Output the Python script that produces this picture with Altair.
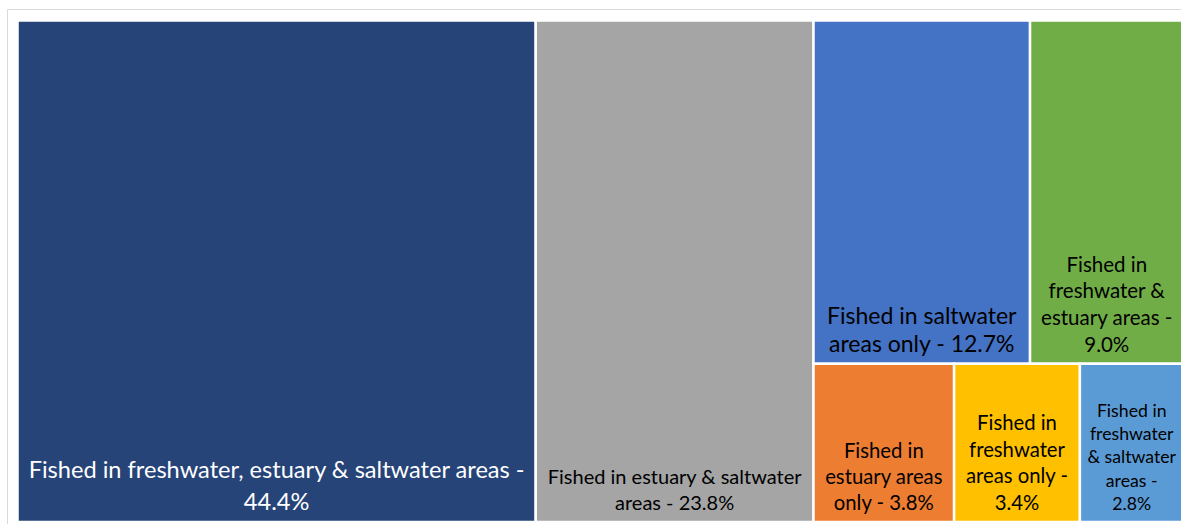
import textwrap

import altair as alt
import pandas as pd

# Share of anglers by the kinds of water they fished in
categories = [
    "Fished in freshwater, estuary & saltwater areas",
    "Fished in estuary & saltwater areas",
    "Fished in saltwater areas only",
    "Fished in freshwater & estuary areas",
    "Fished in estuary areas only",
    "Fished in freshwater areas only",
    "Fished in freshwater & saltwater areas",
]
shares = [44.4, 23.8, 12.7, 9.0, 3.8, 3.4, 2.8]

# Tile styling, one entry per category
fill_colors = ["#264478", "#A5A5A5", "#4472C4", "#70AD47", "#ED7D31", "#FFC000", "#5B9BD5"]
label_colors = ["#FFFFFF", "#000000", "#000000", "#000000", "#000000", "#000000", "#000000"]
font_sizes = [23.6, 20, 23, 20.5, 20.3, 20.3, 17.7]
line_heights = [32, 26, 28, 26.7, 26, 26.7, 23.3]
wrap_widths = [52, 30, 20, 15, 13, 12, 11]

W, H = 1174, 515          # plot area
BOUNDS = (10.5, 11.5, 1176.5, 513)  # treemap extent inside the plot area
ASPECT_RATIO = 1.13       # target aspect ratio for squarified rows
LABEL_PAD = 12            # distance from tile bottom to last baseline


def squarify(values, x0, y0, x1, y1, ratio):
    """Squarified treemap layout (same scheme as d3.treemapSquarify)."""
    rects = []
    n = len(values)
    remaining = float(sum(values))
    i0 = 0
    while i0 < n:
        dx, dy = x1 - x0, y1 - y0
        i1 = i0
        row_sum = values[i1]
        i1 += 1
        lo = hi = row_sum
        alpha = max(dy / dx, dx / dy) / (remaining * ratio)
        beta = row_sum * row_sum * alpha
        best = max(hi / beta, beta / lo)
        while i1 < n:
            v = values[i1]
            s = row_sum + v
            nlo, nhi = min(lo, v), max(hi, v)
            beta = s * s * alpha
            worst = max(nhi / beta, beta / nlo)
            if worst > best:
                break
            row_sum, lo, hi, best = s, nlo, nhi, worst
            i1 += 1
        row = values[i0:i1]
        if dx < dy:
            yb = y0 + dy * row_sum / remaining
            cx = x0
            for v in row:
                w = dx * v / row_sum
                rects.append((cx, y0, cx + w, yb))
                cx += w
            y0 = yb
        else:
            xb = x0 + dx * row_sum / remaining
            cy = y0
            for v in row:
                h = dy * v / row_sum
                rects.append((x0, cy, xb, cy + h))
                cy += h
            x0 = xb
        remaining -= row_sum
        i0 = i1
    return rects


rects = squarify(shares, *BOUNDS, ASPECT_RATIO)

tiles = pd.DataFrame({
    "category": categories,
    "share": shares,
    "x0": [r[0] for r in rects],
    "y0": [r[1] for r in rects],
    "x1": [r[2] for r in rects],
    "y1": [r[3] for r in rects],
    "fill": fill_colors,
})

label_rows = []
for i, (cat, val) in enumerate(zip(categories, shares)):
    label = f"{cat} - {val:.1f}%"
    lines = textwrap.wrap(label, width=wrap_widths[i],
                          break_on_hyphens=False, break_long_words=False)
    x0, y0, x1, y1 = rects[i]
    n = len(lines)
    for j, line in enumerate(lines):
        label_rows.append({
            "line": line,
            "cx": (x0 + x1) / 2,
            "ty": y1 - LABEL_PAD - (n - 1 - j) * line_heights[i],
            "fs": font_sizes[i],
            "tc": label_colors[i],
        })
labels = pd.DataFrame(label_rows)

xs = alt.Scale(domain=[0, W], nice=False, zero=False)
ys = alt.Scale(domain=[0, H], nice=False, zero=False, reverse=True)

boxes = alt.Chart(tiles).mark_rect(stroke="white", strokeWidth=2.5).encode(
    x=alt.X("x0:Q", scale=xs, axis=None),
    x2="x1:Q",
    y=alt.Y("y0:Q", scale=ys, axis=None),
    y2="y1:Q",
    color=alt.Color("fill:N", scale=None),
    tooltip=["category:N", "share:Q"],
)

text = alt.Chart(labels).mark_text(
    align="center", baseline="alphabetic", font="Lato"
).encode(
    x=alt.X("cx:Q", scale=xs, axis=None),
    y=alt.Y("ty:Q", scale=ys, axis=None),
    text="line:N",
    size=alt.Size("fs:Q", scale=None),
    color=alt.Color("tc:N", scale=None),
)

chart = (
    alt.layer(boxes, text)
    .properties(
        width=W,
        height=H,
        autosize=alt.AutoSizeParams(type="none"),
        padding={"left": 7, "top": 9, "right": 0, "bottom": 0},
        background="white",
    )
    .configure_view(stroke="#D9D9D9", strokeWidth=1)
)

chart.save("out.html", embed_options={"renderer": "svg", "actions": False})
